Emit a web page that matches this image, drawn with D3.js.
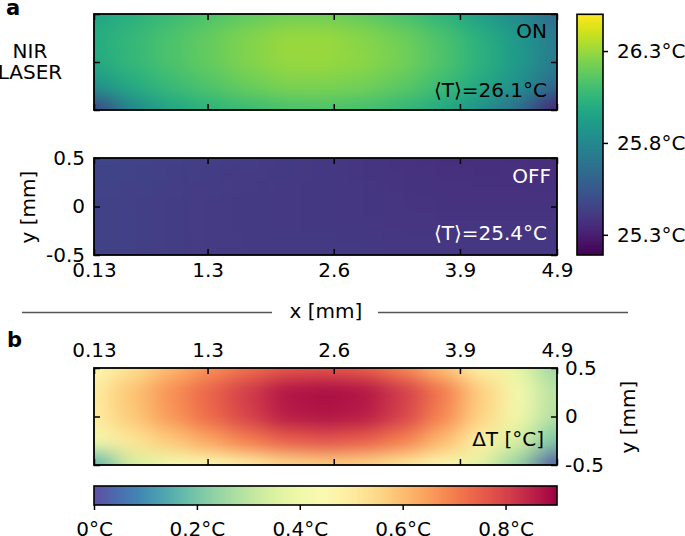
<!DOCTYPE html>
<html>
<head>
<meta charset="utf-8">
<script src="https://cdn.jsdelivr.net/npm/d3@7"></script>
<style>
  html, body { margin: 0; padding: 0; background: #fff; }
  svg { display: block; font-family: "DejaVu Sans", sans-serif; }
</style>
</head>
<body>
<svg id="chart" width="685" height="536"></svg>
<script>
// ---------------- data ----------------
const xTicks = [0.13, 1.3, 2.6, 3.9, 4.9];
const yTicks = [-0.5, 0, 0.5];
const tempTicks = [25.3, 25.8, 26.3];
const dTTicks = [0, 0.2, 0.4, 0.6, 0.8];
const tempDomain = [25.19, 26.5];
const dTDomain = [0, 0.9];

// sample positions (mm)
const xNodes = [0.13, 0.53, 0.93, 1.32, 1.72, 2.12, 2.52, 2.91, 3.31, 3.71, 4.11, 4.50, 4.90];
const yNodes = [0.5, 0.25, 0, -0.25, -0.5];

// NIR laser ON temperature (°C)
const onValues = [
  [25.95, 26.02, 26.08, 26.13, 26.18, 26.21, 26.21, 26.18, 26.12, 26.04, 25.93, 25.80, 25.64],
  [25.99, 26.06, 26.13, 26.19, 26.25, 26.30, 26.30, 26.26, 26.21, 26.13, 26.02, 25.89, 25.73],
  [25.98, 26.06, 26.13, 26.19, 26.25, 26.30, 26.30, 26.27, 26.22, 26.14, 26.03, 25.90, 25.73],
  [25.86, 25.99, 26.08, 26.14, 26.20, 26.24, 26.24, 26.22, 26.17, 26.09, 25.98, 25.84, 25.62],
  [25.45, 25.80, 25.96, 26.03, 26.08, 26.12, 26.13, 26.11, 26.06, 25.98, 25.86, 25.66, 25.32]
];

// NIR laser OFF temperature (°C)
const offXNodes = [0.13, 1.32, 2.52, 3.71, 4.90];
const offYNodes = [0.5, 0, -0.5];
const offValues = [
  [25.46, 25.43, 25.40, 25.37, 25.36],
  [25.45, 25.42, 25.40, 25.38, 25.38],
  [25.45, 25.42, 25.41, 25.40, 25.40]
];

// ΔT (°C)
const dTValues = [
  [0.45, 0.53, 0.61, 0.67, 0.72, 0.76, 0.77, 0.75, 0.69, 0.60, 0.49, 0.38, 0.25],
  [0.50, 0.59, 0.67, 0.74, 0.81, 0.87, 0.88, 0.87, 0.81, 0.71, 0.57, 0.42, 0.29],
  [0.50, 0.58, 0.66, 0.73, 0.80, 0.86, 0.87, 0.86, 0.80, 0.69, 0.56, 0.41, 0.28],
  [0.41, 0.52, 0.58, 0.64, 0.70, 0.75, 0.77, 0.75, 0.70, 0.61, 0.49, 0.35, 0.20],
  [0.16, 0.34, 0.41, 0.45, 0.50, 0.55, 0.57, 0.56, 0.52, 0.46, 0.37, 0.24, 0.02]
];

// ---------------- layout ----------------
const FONT = 20;
const svg = d3.select("#chart");
const defs = svg.append("defs");

const x = d3.scaleLinear().domain([0.13, 4.9]).range([94, 557]);
const yOn = d3.scaleLinear().domain([-0.5, 0.5]).range([110, 14]);
const yOff = d3.scaleLinear().domain([-0.5, 0.5]).range([255, 158]);
const yDT = d3.scaleLinear().domain([-0.5, 0.5]).range([465, 368]);

const tempColor = d3.scaleSequential(d3.interpolateViridis).domain(tempDomain);
const dTColor = d3.scaleSequential(t => d3.interpolateSpectral(1 - t)).domain(dTDomain);

function bounds(p, m) {
  const n = p.length;
  return p.map((v, i) => [
    i === 0 ? v - m : (p[i - 1] + v) / 2,
    i === n - 1 ? v + m : (v + p[i + 1]) / 2
  ]);
}

let hmId = 0;
function heatmap(xs, ys, vals, color, xs_, ys_) {
  hmId++;
  const px = xs.map(xs_), py = ys.map(ys_);
  const sx = Math.abs(px[1] - px[0]) * 0.36, sy = Math.abs(py[1] - py[0]) * 0.36;
  const bx = bounds(px, 3 * sx), by = bounds(py, 3 * sy);
  const [x0, x1] = xs_.range(), [yb, yt] = ys_.range();
  defs.append("clipPath").attr("id", "clip" + hmId)
    .append("rect").attr("x", x0).attr("y", yt).attr("width", x1 - x0).attr("height", yb - yt);
  const f = defs.append("filter").attr("id", "blur" + hmId)
    .attr("filterUnits", "userSpaceOnUse")
    .attr("x", x0 - 4 * sx).attr("y", yt - 4 * sy)
    .attr("width", x1 - x0 + 8 * sx).attr("height", yb - yt + 8 * sy)
    .attr("color-interpolation-filters", "sRGB");
  f.append("feGaussianBlur").attr("stdDeviation", `${sx} ${sy}`);
  const cells = [];
  vals.forEach((row, j) => row.forEach((v, i) => cells.push({ i, j, v })));
  svg.append("g").attr("clip-path", `url(#clip${hmId})`)
    .append("g").attr("filter", `url(#blur${hmId})`)
    .selectAll("rect").data(cells).join("rect")
    .attr("x", d => bx[d.i][0] - 0.5)
    .attr("y", d => by[d.j][0] - 0.5)
    .attr("width", d => bx[d.i][1] - bx[d.i][0] + 1)
    .attr("height", d => by[d.j][1] - by[d.j][0] + 1)
    .attr("fill", d => color(d.v));
}

function styleAxis(g) {
  g.select(".domain").remove();
  g.attr("font-size", FONT).attr("font-family", "DejaVu Sans");
  g.selectAll(".tick line").attr("stroke", "#000").attr("stroke-width", 1.5);
  g.selectAll(".tick text").attr("fill", "#000");
}

function frame(xs_, ys_, labels) {
  const [x0, x1] = xs_.range(), [yb, yt] = ys_.range();
  const fmt = d => String(d);
  const mk = (axis, tr, lab, pad) => {
    const a = axis.tickSize(-6).tickPadding(pad).tickFormat(lab ? fmt : "");
    svg.append("g").attr("transform", tr).call(a).call(styleAxis);
  };
  mk(d3.axisBottom(xs_).tickValues(xTicks), `translate(0,${yb})`, labels.bottom, 8);
  mk(d3.axisTop(xs_).tickValues(xTicks), `translate(0,${yt})`, labels.top, 11);
  mk(d3.axisLeft(ys_).tickValues(yTicks), `translate(${x0},0)`, labels.left, 9);
  mk(d3.axisRight(ys_).tickValues(yTicks), `translate(${x1},0)`, labels.right, 8);
  svg.append("rect").attr("x", x0).attr("y", yt).attr("width", x1 - x0).attr("height", yb - yt)
    .attr("fill", "none").attr("stroke", "#000").attr("stroke-width", 1.8);
}

// ---------------- panel a ----------------
heatmap(xNodes, yNodes, onValues, tempColor, x, yOn);
frame(x, yOn, {});
heatmap(offXNodes, offYNodes, offValues, tempColor, x, yOff);
frame(x, yOff, { left: true, bottom: true });

svg.append("text").attr("x", 6).attr("y", 15).attr("font-size", 21).attr("font-weight", "bold").text("a");
svg.append("text").attr("x", 30).attr("y", 58).attr("text-anchor", "middle").attr("font-size", FONT).text("NIR");
svg.append("text").attr("x", 30).attr("y", 79).attr("text-anchor", "middle").attr("font-size", FONT).text("LASER");

svg.append("text").attr("x", 547).attr("y", 38).attr("text-anchor", "end").attr("font-size", FONT).attr("fill", "#000").text("ON");
svg.append("text").attr("x", 547).attr("y", 97).attr("text-anchor", "end").attr("font-size", FONT).attr("fill", "#000").text("⟨T⟩=26.1°C");
svg.append("text").attr("x", 551).attr("y", 183).attr("text-anchor", "end").attr("font-size", FONT).attr("fill", "#fff").text("OFF");
svg.append("text").attr("x", 547).attr("y", 240).attr("text-anchor", "end").attr("font-size", FONT).attr("fill", "#fff").text("⟨T⟩=25.4°C");

svg.append("text").attr("transform", "translate(35,207) rotate(-90)").attr("text-anchor", "middle")
  .attr("font-size", FONT).text("y [mm]");

// x label with side lines
svg.append("text").attr("x", 326).attr("y", 318).attr("text-anchor", "middle").attr("font-size", FONT).text("x [mm]");
svg.append("line").attr("x1", 22).attr("x2", 272).attr("y1", 312.5).attr("y2", 312.5).attr("stroke", "#555").attr("stroke-width", 1.3);
svg.append("line").attr("x1", 378).attr("x2", 628).attr("y1", 312.5).attr("y2", 312.5).attr("stroke", "#555").attr("stroke-width", 1.3);

// temperature colorbar
const cbY = d3.scaleLinear().domain(tempDomain).range([255, 14.3]);
const gradV = defs.append("linearGradient").attr("id", "gradTemp")
  .attr("x1", 0).attr("y1", 1).attr("x2", 0).attr("y2", 0);
d3.range(0, 1.0001, 0.05).forEach(t => gradV.append("stop").attr("offset", t).attr("stop-color", d3.interpolateViridis(t)));
svg.append("rect").attr("x", 577).attr("y", 14.3).attr("width", 26).attr("height", 255 - 14.3)
  .attr("fill", "url(#gradTemp)").attr("stroke", "#000").attr("stroke-width", 1.6);
svg.append("g").attr("transform", "translate(603,0)")
  .call(d3.axisRight(cbY).tickValues(tempTicks).tickSize(5).tickPadding(9).tickFormat(d => d.toFixed(1) + "°C"))
  .call(styleAxis);

// ---------------- panel b ----------------
svg.append("text").attr("x", 7).attr("y", 347).attr("font-size", 21).attr("font-weight", "bold").text("b");
heatmap(xNodes, yNodes, dTValues, dTColor, x, yDT);
frame(x, yDT, { top: true, right: true });
svg.append("text").attr("x", 544).attr("y", 446).attr("text-anchor", "end").attr("font-size", FONT).text("ΔT [°C]");
svg.append("text").attr("transform", "translate(635,417) rotate(-90)").attr("text-anchor", "middle")
  .attr("font-size", FONT).text("y [mm]");

const cbX = d3.scaleLinear().domain(dTDomain).range([94, 557]);
const gradH = defs.append("linearGradient").attr("id", "gradDT")
  .attr("x1", 0).attr("y1", 0).attr("x2", 1).attr("y2", 0);
d3.range(0, 1.0001, 0.05).forEach(t => gradH.append("stop").attr("offset", t).attr("stop-color", d3.interpolateSpectral(1 - t)));
svg.append("rect").attr("x", 94).attr("y", 486).attr("width", 557 - 94).attr("height", 19)
  .attr("fill", "url(#gradDT)").attr("stroke", "#000").attr("stroke-width", 1.6);
svg.append("g").attr("transform", "translate(0,505)")
  .call(d3.axisBottom(cbX).tickValues(dTTicks).tickSize(5).tickPadding(12).tickFormat(d => (d === 0 ? "0" : d.toFixed(1)) + "°C"))
  .call(styleAxis);
</script>
</body>
</html>
